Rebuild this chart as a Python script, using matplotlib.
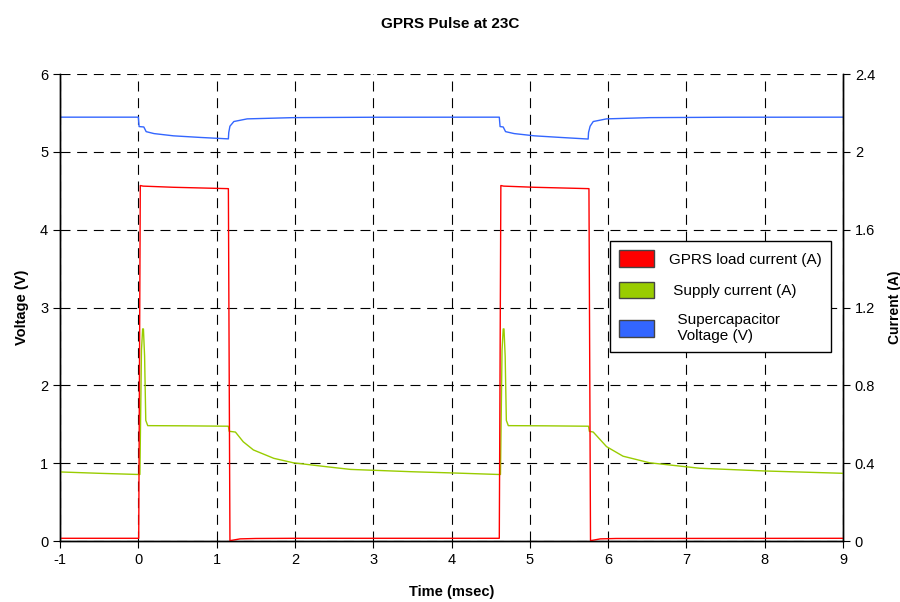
import matplotlib
matplotlib.use('Agg')
import matplotlib.pyplot as plt
from matplotlib.patches import Patch
from matplotlib.ticker import FormatStrFormatter

plt.rcParams['font.family'] = ['Liberation Sans', 'DejaVu Sans']
plt.rcParams['axes.unicode_minus'] = False

# GPRS load current (A), right axis
t_load = [-1.0, 0.005, 0.025, 0.06, 0.45, 1.15, 1.17, 1.2, 1.3, 1.5, 2.0,
          4.61, 4.63, 4.665, 5.06, 5.755, 5.775, 5.805, 5.9, 6.1, 9.0]
i_load = [0.014, 0.014, 1.827, 1.824, 1.818, 1.811, 0.002, 0.004, 0.011, 0.013, 0.014,
          0.014, 1.827, 1.824, 1.818, 1.811, 0.002, 0.004, 0.011, 0.013, 0.014]

# Supply current (A), right axis
t_sup = [-1.0, -0.5, 0.0, 0.02, 0.04, 0.055, 0.065, 0.08, 0.095, 0.12, 0.6, 1.15,
         1.16, 1.24, 1.34, 1.47, 1.73, 1.98, 2.4, 2.71, 3.5, 4.0, 4.6,
         4.625, 4.645, 4.66, 4.67, 4.685, 4.70, 4.725, 5.2, 5.75,
         5.76, 5.81, 5.98, 6.19, 6.53, 7.17, 8.0, 9.0]
i_sup = [0.355, 0.348, 0.342, 0.342, 0.98, 1.09, 1.09, 0.95, 0.62, 0.593, 0.592, 0.590,
         0.564, 0.560, 0.510, 0.468, 0.425, 0.402, 0.382, 0.368, 0.356, 0.350, 0.342,
         0.342, 0.98, 1.09, 1.09, 0.95, 0.62, 0.593, 0.592, 0.590,
         0.564, 0.560, 0.485, 0.436, 0.402, 0.374, 0.360, 0.348]

# Supercapacitor voltage (V), left axis
t_cap = [-1.0, 0.0, 0.01, 0.07, 0.1, 0.2, 0.45, 0.8, 1.15,
         1.155, 1.17, 1.22, 1.39, 1.98, 3.0, 4.61,
         4.62, 4.66, 4.69, 4.8, 5.06, 5.4, 5.745,
         5.75, 5.77, 5.81, 5.98, 6.53, 7.5, 9.0]
v_cap = [5.446, 5.446, 5.325, 5.32, 5.26, 5.235, 5.206, 5.185, 5.167,
         5.25, 5.33, 5.39, 5.424, 5.44, 5.445, 5.446,
         5.325, 5.32, 5.26, 5.235, 5.206, 5.185, 5.165,
         5.25, 5.33, 5.39, 5.424, 5.44, 5.445, 5.446]

red = '#FF0000'
green = '#99CC00'
blue = '#3366FF'

fig = plt.figure(figsize=(9, 6.02), dpi=100)
ax1 = fig.add_axes([0.0667, 0.1013, 0.87, 0.7757])
ax2 = ax1.twinx()

ax1.plot(t_cap, v_cap, color=blue, lw=1.0)
ax2.plot(t_sup, i_sup, color=green, lw=1.0)
ax2.plot(t_load, i_load, color=red, lw=1.0)

ax1.set_xlim(-1, 9)
ax1.set_ylim(0, 6)
ax2.set_ylim(0, 2.4)
ax1.set_xticks(range(-1, 10))
ax1.set_yticks(range(0, 7))
ax2.set_yticks([0, 0.4, 0.8, 1.2, 1.6, 2.0, 2.4])
ax2.yaxis.set_major_formatter(FormatStrFormatter('%g'))

ax1.grid(True, color='black', linestyle=(0, (9, 6)), linewidth=0.8)
ax1.set_axisbelow(True)

for ax in (ax1, ax2):
    ax.spines['top'].set_visible(False)
    ax.tick_params(direction='out', length=5, labelsize=10.5, width=0.8)
    for s in ('left', 'right', 'bottom'):
        ax.spines[s].set_linewidth(1.0)

ax1.set_xlabel('Time (msec)', fontsize=10.5, fontweight='bold', labelpad=13)
ax1.set_ylabel('Voltage (V)', fontsize=10.5, fontweight='bold', labelpad=8)
ax2.set_ylabel('Current (A)', fontsize=10, fontweight='bold', labelpad=9)
fig.suptitle('GPRS Pulse at 23C', fontsize=11, fontweight='bold', y=0.972)

handles = [Patch(facecolor=red, edgecolor='#444444'),
           Patch(facecolor=green, edgecolor='#444444'),
           Patch(facecolor=blue, edgecolor='#444444')]
labels = ['GPRS load current (A)', ' Supply current (A)', '  Supercapacitor\n  Voltage (V)']
leg = ax2.legend(handles, labels, loc='upper left', bbox_to_anchor=(0.702, 0.642),
                 fancybox=False, edgecolor='black', framealpha=1, fontsize=11,
                 handlelength=2.3, handleheight=1.3, borderpad=0.6, labelspacing=0.95,
                 handletextpad=1.0, borderaxespad=0)
leg.get_frame().set_linewidth(1.0)

fig.savefig('out.png', dpi=100)
